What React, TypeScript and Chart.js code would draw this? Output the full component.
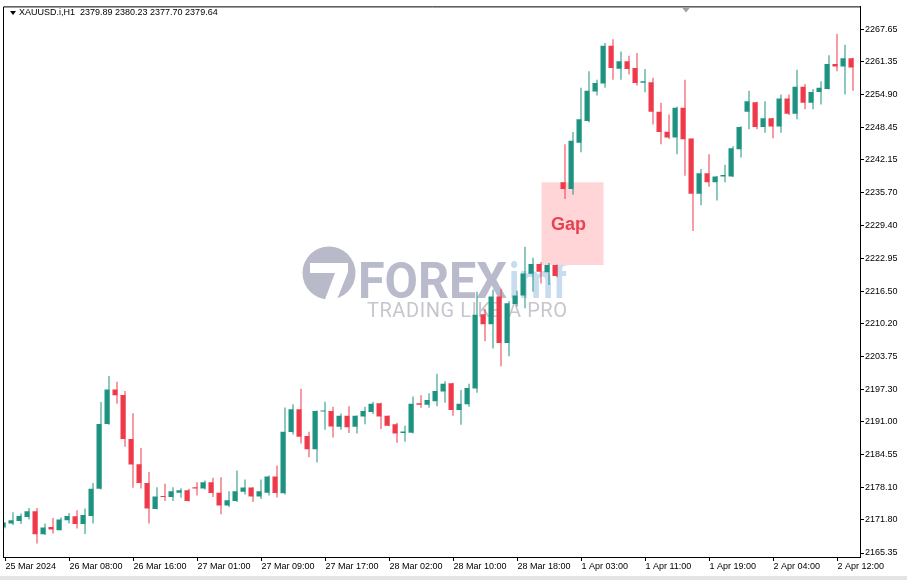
import React, { useEffect, useRef } from "react";
import { Chart, registerables } from "chart.js";

Chart.register(...registerables);

// ---- Data (H1 candles, XAUUSD) ----
const opens = [2170.5,2171.1,2171.6,2172.4,2173.5,2169.0,2170.45,2169.8,2171.75,2172.55,
2171.0,2172.6,2177.9,2190.55,2197.3,2196.2,2187.6,2182.7,2179.0,2173.95,
2176.5,2176.3,2177.1,2177.6,2178.2,2177.95,2179.15,2177.1,2174.65,2175.5,
2177.3,2178.15,2176.4,2177.1,2180.3,2177.0,2189.0,2193.45,2188.2,2185.6,
2193.0,2193.1,2190.0,2192.15,2190.0,2192.0,2192.9,2194.6,2192.15,2190.5,
2188.8,2188.85,2194.6,2194.3,2195.0,2196.9,2198.5,2193.3,2194.4,2197.5,
2212.0,2210.05,2215.45,2206.35,2214.0,2215.65,2219.9,2221.8,2220.2,2221.6,
2237.75,2236.45,2245.5,2249.75,2255.5,2257.05,2264.4,2259.95,2261.4,2260.1,
2257.2,2257.3,2251.55,2247.65,2246.5,2252.3,2246.3,2235.5,2239.5,2237.75,
2238.9,2238.9,2244.2,2251.55,2253.4,2248.55,2250.25,2248.65,2254.1,2251.15,
2256.4,2253.3,2255.4,2256.0,2260.85,2260.35,2262.0];

const highs = [2171.4,2173.3,2173.05,2174.15,2174.15,2171.1,2172.2,2172.3,2173.15,2173.7,
2174.05,2179.0,2194.85,2199.9,2198.8,2197.0,2192.65,2185.85,2181.15,2178.2,
2178.9,2178.2,2178.0,2177.9,2179.15,2179.5,2180.05,2180.15,2177.4,2181.45,
2179.7,2178.2,2179.7,2180.5,2182.45,2193.75,2194.4,2197.45,2189.05,2193.2,
2194.9,2193.9,2192.6,2194.0,2192.2,2193.9,2194.9,2194.7,2192.2,2190.8,
2190.2,2195.9,2196.15,2196.55,2200.35,2198.9,2198.6,2197.2,2198.4,2216.4,
2213.05,2216.75,2216.9,2214.5,2216.55,2225.15,2223.0,2222.2,2222.0,2221.7,
2245.2,2247.6,2256.2,2259.45,2257.8,2264.95,2265.7,2263.3,2262.45,2263.0,
2259.9,2258.15,2253.3,2251.0,2252.5,2257.8,2246.3,2240.35,2243.25,2239.0,
2241.2,2244.8,2248.7,2255.65,2253.5,2253.6,2250.3,2254.9,2254.9,2259.75,
2256.95,2256.0,2257.5,2262.55,2266.7,2264.6,2262.1];

const lows = [2170.2,2170.8,2171.0,2171.9,2167.2,2168.85,2169.15,2169.8,2171.1,2170.15,
2169.05,2171.1,2177.75,2190.4,2194.5,2186.1,2178.1,2177.95,2171.1,2173.9,
2175.5,2175.5,2176.15,2175.4,2176.6,2177.75,2176.3,2172.9,2174.35,2175.3,
2176.8,2175.3,2175.9,2176.6,2176.2,2176.8,2188.5,2186.75,2184.05,2183.05,
2189.4,2187.9,2189.4,2188.8,2188.7,2190.5,2192.5,2189.55,2190.1,2186.9,
2187.1,2188.7,2193.7,2193.7,2194.0,2194.7,2192.15,2190.4,2193.9,2196.65,
2206.7,2205.3,2201.85,2203.8,2213.5,2213.15,2216.4,2218.0,2217.7,2219.2,
2234.5,2235.3,2243.6,2249.5,2254.7,2256.2,2257.8,2257.8,2258.8,2256.65,
2255.35,2249.05,2245.2,2246.2,2243.25,2239.05,2228.25,2233.25,2236.9,2234.2,
2237.75,2238.8,2242.6,2248.1,2248.1,2247.45,2246.35,2247.45,2250.9,2250.05,
2252.0,2252.0,2252.95,2255.9,2259.45,2254.9,2255.65];

const closes = [2171.2,2171.75,2172.6,2173.5,2169.0,2170.35,2169.95,2171.9,2172.6,2171.0,
2172.75,2177.9,2190.55,2197.3,2196.15,2187.6,2182.65,2179.0,2174.05,2176.4,
2176.3,2177.4,2177.6,2175.5,2177.95,2179.15,2177.05,2174.65,2175.65,2177.4,
2178.15,2176.4,2177.4,2180.3,2177.05,2189.05,2193.45,2188.05,2185.6,2193.1,
2193.2,2190.05,2192.15,2189.9,2192.15,2193.1,2194.5,2192.0,2190.2,2188.7,
2189.1,2194.5,2194.3,2195.25,2197.0,2198.4,2193.3,2194.5,2197.6,2211.9,
2210.05,2215.45,2206.35,2214.15,2215.65,2219.95,2221.8,2220.3,2221.6,2219.45,
2236.45,2245.85,2250.05,2255.65,2257.15,2264.4,2260.1,2261.4,2259.9,2257.15,
2257.5,2251.55,2247.6,2246.5,2252.3,2246.15,2235.5,2239.5,2237.75,2238.9,
2239.2,2244.4,2248.55,2253.6,2248.55,2250.25,2248.65,2254.1,2251.15,2256.4,
2253.3,2255.4,2256.2,2260.85,2260.35,2262.0,2260.2];

const xTickIndex = [0, 8, 16, 24, 32, 40, 48, 56, 64, 72, 80, 88, 96, 104];
const xTickLabels = [
  "25 Mar 2024", "26 Mar 08:00", "26 Mar 16:00", "27 Mar 01:00", "27 Mar 09:00",
  "27 Mar 17:00", "28 Mar 02:00", "28 Mar 10:00", "28 Mar 18:00", "1 Apr 03:00",
  "1 Apr 11:00", "1 Apr 19:00", "2 Apr 04:00", "2 Apr 12:00",
];
const yTickValues = [2267.65, 2261.35, 2254.90, 2248.45, 2242.15, 2235.70, 2229.40, 2222.95,
  2216.50, 2210.20, 2203.75, 2197.30, 2191.00, 2184.55, 2178.10, 2171.80, 2165.35];

// gap annotation (between candle 69 close and candle 70 open)
const gapStartIdx = 67;
const gapEndIdx = 74.75;
const gapLow = 2221.6;
const gapHigh = 2237.75;

const headerText = "XAUUSD.i,H1  2379.89 2380.23 2377.70 2379.64";

const UP = "#1f9382";
const DOWN = "#ef3a4b";
const AXIS_FONT = { family: "'Liberation Sans', Arial, sans-serif", size: 9 };

function fitText(ctx: CanvasRenderingContext2D, text: string, x: number, y: number, w: number, font: string, color: string) {
  ctx.save();
  ctx.font = font;
  ctx.textAlign = "left";
  ctx.textBaseline = "alphabetic";
  const m = ctx.measureText(text).width;
  ctx.translate(x, y);
  ctx.scale(w / m, 1);
  ctx.fillStyle = color;
  ctx.fillText(text, 0, 0);
  ctx.restore();
}

function spacedText(ctx: CanvasRenderingContext2D, text: string, x: number, y: number, w: number, font: string, color: string) {
  ctx.save();
  ctx.font = font;
  ctx.textAlign = "left";
  ctx.textBaseline = "alphabetic";
  ctx.fillStyle = color;
  const natural = ctx.measureText(text).width;
  const anyCtx = ctx as any;
  if ("letterSpacing" in anyCtx) {
    const sp = (w - natural) / (text.length - 1);
    anyCtx.letterSpacing = sp + "px";
    ctx.fillText(text, x, y);
  } else {
    ctx.translate(x, y);
    ctx.scale(w / natural, 1);
    ctx.fillText(text, 0, 0);
  }
  ctx.restore();
}

const decorPlugin = {
  id: "decor",
  beforeDraw(chart: any) {
    const ctx = chart.ctx as CanvasRenderingContext2D;
    ctx.save();
    ctx.fillStyle = "#ffffff";
    ctx.fillRect(0, 0, chart.width, chart.height);
    ctx.restore();
  },
  beforeDatasetsDraw(chart: any) {
    const ctx = chart.ctx as CanvasRenderingContext2D;
    // watermark
    ctx.save();
    const cx = 329, cy = 273, r = 26.5;
    ctx.fillStyle = "#b8b9c9";
    ctx.beginPath();
    ctx.arc(cx, cy, r, 0, Math.PI * 2);
    ctx.fill();
    ctx.save();
    ctx.beginPath();
    ctx.arc(cx, cy, r + 0.5, 0, Math.PI * 2);
    ctx.clip();
    ctx.fillStyle = "#ffffff";
    ctx.beginPath();
    ctx.moveTo(310, 263);
    ctx.lineTo(348, 263);
    ctx.lineTo(348, 272);
    ctx.lineTo(336, 302);
    ctx.lineTo(324, 302);
    ctx.lineTo(335, 273);
    ctx.lineTo(310, 273);
    ctx.closePath();
    ctx.fill();
    ctx.restore();
    fitText(ctx, "FOREX", 358, 298, 149, "bold 50px Roboto, 'Liberation Sans', sans-serif", "#b9bacb");
    fitText(ctx, "imf", 509, 298, 58, "bold 50px Roboto, 'Liberation Sans', sans-serif", "#c7dcee");
    spacedText(ctx, "TRADING LIKE A PRO", 367, 317, 200, "20px Roboto, 'Liberation Sans', sans-serif", "#c6c6cf");
    ctx.restore();

    // gap box
    const xs = chart.scales.x, ys = chart.scales.y;
    const x0 = xs.getPixelForValue(gapStartIdx);
    const x1 = xs.getPixelForValue(gapEndIdx);
    const y0 = ys.getPixelForValue(gapHigh);
    const y1 = ys.getPixelForValue(gapLow);
    ctx.save();
    ctx.fillStyle = "#ffd5d7";
    ctx.fillRect(x0, y0, x1 - x0, y1 - y0);
    ctx.fillStyle = "#e8414f";
    ctx.font = "bold 18px 'Liberation Sans', Arial, sans-serif";
    ctx.textAlign = "center";
    ctx.textBaseline = "middle";
    ctx.fillText("Gap", (x0 + x1) / 2 - 4, (y0 + y1) / 2 + 1);
    ctx.restore();
  },
  afterDraw(chart: any) {
    const ctx = chart.ctx as CanvasRenderingContext2D;
    const a = chart.chartArea;
    ctx.save();
    ctx.strokeStyle = "#000";
    ctx.lineWidth = 1;
    ctx.beginPath();
    ctx.moveTo(a.left + 0.5, a.bottom);
    ctx.lineTo(a.left + 0.5, a.top + 0.5);
    ctx.lineTo(a.right + 1, a.top + 0.5);
    ctx.stroke();
    // header
    ctx.fillStyle = "#000";
    ctx.beginPath();
    ctx.moveTo(10, 11);
    ctx.lineTo(16, 11);
    ctx.lineTo(13, 15);
    ctx.closePath();
    ctx.fill();
    ctx.font = "9px 'Liberation Sans', Arial, sans-serif";
    ctx.textAlign = "left";
    ctx.textBaseline = "middle";
    ctx.fillText(headerText, 19, 13);
    // shift marker
    ctx.fillStyle = "#a0a0a0";
    ctx.beginPath();
    ctx.moveTo(682, a.top + 1);
    ctx.lineTo(690, a.top + 1);
    ctx.lineTo(686, a.top + 6);
    ctx.closePath();
    ctx.fill();
    // window bottom strip
    ctx.fillStyle = "#e4e4e4";
    ctx.fillRect(0, 576, chart.width, chart.height - 576);
    ctx.restore();
  },
};

export default function App() {
  const ref = useRef<HTMLCanvasElement | null>(null);
  useEffect(() => {
    if (!ref.current) return;
    const idx = opens.map((_, i) => i);
    const colors = idx.map((i) => (closes[i] >= opens[i] ? UP : DOWN));
    const wickData = idx.map((i) => ({ x: i, y: [lows[i], highs[i]] }));
    const bodyData = idx.map((i) => ({ x: i, y: [Math.min(opens[i], closes[i]), Math.max(opens[i], closes[i])] }));

    const chart = new Chart(ref.current, {
      type: "bar",
      data: {
        datasets: [
          {
            label: "wick",
            data: wickData as any,
            backgroundColor: colors,
            borderColor: colors,
            borderWidth: 0,
            barThickness: 1,
            stack: "ohlc",
            inflateAmount: 0,
          } as any,
          {
            label: "body",
            data: bodyData as any,
            backgroundColor: colors,
            borderColor: colors,
            borderWidth: 0,
            barThickness: 5,
            minBarLength: 1,
            stack: "ohlc",
            inflateAmount: 0,
          } as any,
        ],
      },
      options: {
        responsive: false,
        maintainAspectRatio: false,
        animation: false,
        devicePixelRatio: 1,
        events: [],
        layout: { padding: { left: 3, top: 3, right: 0, bottom: 0 } },
        plugins: { legend: { display: false }, tooltip: { enabled: false } },
        scales: {
          x: {
            type: "linear",
            offset: false,
            stacked: false,
            min: -0.3125,
            max: 106.8125,
            afterBuildTicks: (s: any) => {
              s.ticks = xTickIndex.map((v) => ({ value: v }));
            },
            afterFit: (s: any) => {
              s.height = 23;
            },
            ticks: {
              autoSkip: false,
              maxRotation: 0,
              minRotation: 0,
              align: "start",
              padding: 0,
              color: "#000",
              font: AXIS_FONT,
              callback: (_v: any, i: number) => xTickLabels[i],
            },
            grid: { offset: false, drawOnChartArea: false, drawTicks: true, tickLength: 4, tickColor: "#000" },
            border: { display: true, color: "#000", width: 1 },
          } as any,
          y: {
            type: "linear",
            position: "right",
            stacked: false,
            min: 2164.57,
            max: 2272.11,
            afterBuildTicks: (s: any) => {
              s.ticks = yTickValues.map((v) => ({ value: v }));
            },
            afterFit: (s: any) => {
              s.width = 47;
            },
            ticks: {
              autoSkip: false,
              padding: 1,
              color: "#000",
              font: AXIS_FONT,
              callback: (v: any) => Number(v).toFixed(2),
            },
            grid: { drawOnChartArea: false, drawTicks: true, tickLength: 4, tickColor: "#000" },
            border: { display: true, color: "#000", width: 1 },
          } as any,
        },
      },
      plugins: [decorPlugin],
    });
    return () => chart.destroy();
  }, []);

  return (
    <div style={{ position: "absolute", left: 0, top: 0, width: 907, height: 580, background: "#fff" }}>
      <canvas ref={ref} width={907} height={580} style={{ width: 907, height: 580, display: "block" }} />
    </div>
  );
}
